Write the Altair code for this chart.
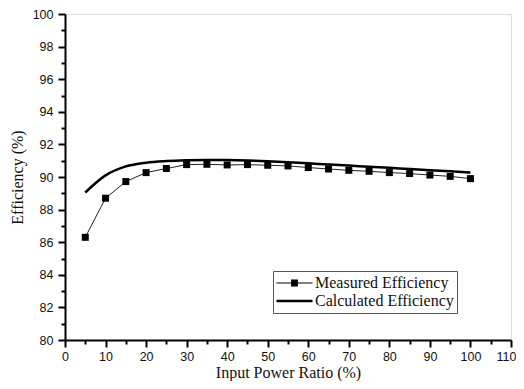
import altair as alt
import pandas as pd

ratio = [5, 10, 15, 20, 25, 30, 35, 40, 45, 50, 55, 60, 65, 70, 75, 80, 85, 90, 95, 100]
measured = [86.3, 88.7, 89.72, 90.27, 90.52, 90.76, 90.78, 90.74, 90.76, 90.72,
            90.68, 90.58, 90.49, 90.41, 90.35, 90.27, 90.21, 90.12, 90.04, 89.9]
calculated = [89.05, 90.1, 90.65, 90.88, 90.98, 91.03, 91.05, 91.04, 91.01, 90.97,
              90.91, 90.84, 90.77, 90.7, 90.63, 90.56, 90.49, 90.42, 90.35, 90.28]
series_names = ["Measured Efficiency", "Calculated Efficiency"]
x_major = list(range(0, 111, 10))
x_minor = list(range(5, 110, 10))
y_major = list(range(80, 101, 2))
y_minor = list(range(81, 100, 2))

meas_df = pd.DataFrame({"ratio": ratio, "eff": measured, "series": series_names[0]})
calc_df = pd.DataFrame({"ratio": ratio, "eff": calculated, "series": series_names[1]})
all_df = pd.concat([meas_df, calc_df], ignore_index=True)

xscale = alt.Scale(domain=[0, 110], nice=False, zero=False)
yscale = alt.Scale(domain=[80, 100], nice=False, zero=False)

LABEL_FONT = "Liberation Sans"
TITLE_FONT = "Liberation Serif"

x_axis_major = alt.Axis(values=x_major, orient="bottom", title="Input Power Ratio (%)",
                        grid=False, tickSize=7, tickWidth=2, domainWidth=2,
                        domainColor="black", tickColor="black", labelPadding=3,
                        labelFont=LABEL_FONT, labelFontSize=12.5, labelColor="#111",
                        labelAlign={"condition": {"test": "datum.value == 110", "value": "right"},
                                    "value": "center"},
                        labelOffset={"condition": {"test": "datum.value == 110", "value": 5},
                                     "value": 0},
                        titleFont=TITLE_FONT, titleFontSize=16, titleFontWeight="normal",
                        titleColor="#111", titlePadding=2, labelFlush=False)
y_axis_major = alt.Axis(values=y_major, orient="left", title="Efficiency (%)",
                        grid=False, tickSize=7, tickWidth=2, domainWidth=2,
                        domainColor="black", tickColor="black", labelPadding=5,
                        labelFont=LABEL_FONT, labelFontSize=12.5, labelColor="#111",
                        titleFont=TITLE_FONT, titleFontSize=16, titleFontWeight="normal",
                        titleColor="#111", titlePadding=7, labelFlush=False)
x_axis_minor = alt.Axis(values=x_minor, orient="bottom", title=None, labels=False,
                        domain=False, grid=False, tickSize=4, tickWidth=2, tickColor="black")
y_axis_minor = alt.Axis(values=y_minor, orient="left", title=None, labels=False,
                        domain=False, grid=False, tickSize=4, tickWidth=2, tickColor="black")

calc_line = alt.Chart(calc_df).mark_line(
    interpolate="monotone", strokeWidth=2.5, color="black"
).encode(
    x=alt.X("ratio:Q", scale=xscale, axis=x_axis_major),
    y=alt.Y("eff:Q", scale=yscale, axis=y_axis_major),
)

minor = alt.Chart(meas_df).mark_point(opacity=0).encode(
    x=alt.X("ratio:Q", scale=xscale, axis=x_axis_minor),
    y=alt.Y("eff:Q", scale=yscale, axis=y_axis_minor),
)

meas_line = alt.Chart(meas_df).mark_line(strokeWidth=1, color="#222").encode(
    x=alt.X("ratio:Q", scale=xscale, axis=None),
    y=alt.Y("eff:Q", scale=yscale, axis=None),
)

meas_pts = alt.Chart(meas_df).mark_square(size=49, color="black", opacity=1).encode(
    x=alt.X("ratio:Q", scale=xscale, axis=None),
    y=alt.Y("eff:Q", scale=yscale, axis=None),
)

# legend symbols drawn as filled shapes (line bar + square / thick bar)
sym_meas = "M-1,-0.03H1V0.03H-1Z M-0.19,-0.19H0.19V0.19H-0.19Z"
sym_calc = "M-1,-0.07H1V0.07H-1Z"

legend_layer = alt.Chart(all_df).mark_point(
    opacity=0, filled=True, fill="black"
).encode(
    x=alt.X("ratio:Q", scale=xscale, axis=None),
    y=alt.Y("eff:Q", scale=yscale, axis=None),
    shape=alt.Shape("series:N",
                    scale=alt.Scale(domain=series_names, range=[sym_meas, sym_calc]),
                    legend=alt.Legend(orient="none", legendX=208, legendY=257, title=None,
                                      strokeColor="#555", padding=3, clipHeight=18,
                                      symbolSize=1300, symbolFillColor="black",
                                      symbolStrokeWidth=0, symbolOpacity=1,
                                      labelFont=TITLE_FONT, labelFontSize=16,
                                      labelColor="#111", labelOffset=2, rowPadding=0,
                                      labelLimit=300)),
)

chart = alt.layer(calc_line, minor, meas_line, meas_pts, legend_layer).resolve_axis(
    x="independent", y="independent"
).properties(
    width=446, height=326,
    autosize=alt.AutoSizeParams(type="none"),
    padding={"left": 57, "top": 6, "right": 5, "bottom": 41},
).configure_view(stroke=None).configure_legend(
    labelFont=TITLE_FONT, labelFontSize=16
).configure(background="white")

chart.save("out.html", embed_options={"renderer": "svg", "actions": False})
